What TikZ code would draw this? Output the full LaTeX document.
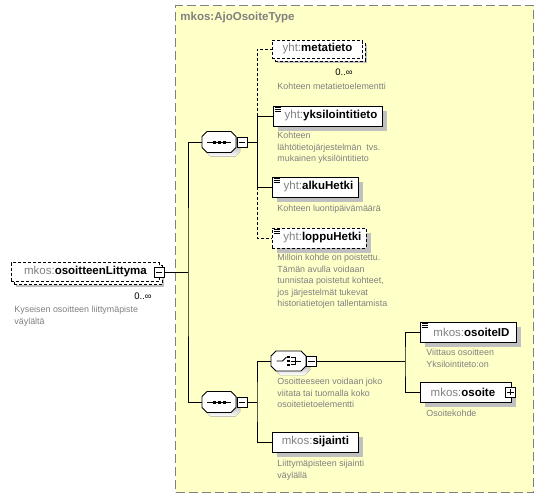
\documentclass[tikz,border=0pt]{standalone}
\usepackage{fontspec}
\setmainfont{Liberation Sans}
\usetikzlibrary{shadows}
\definecolor{typebg}{RGB}{255,255,200}
\definecolor{typeborder}{RGB}{128,128,128}
\definecolor{shade}{RGB}{192,192,192}
\definecolor{desccol}{RGB}{128,128,128}
\definecolor{prefcol}{RGB}{128,128,128}
\newcommand\pf[1]{{\color{prefcol}#1}}
\newcommand\nm[1]{{\bfseries #1}}
\begin{document}
\begin{tikzpicture}[x=1pt,y=-1pt,line width=0.9pt,
  elembase/.style={draw=black,fill=white,anchor=west,minimum height=20pt,inner sep=0pt,
    font=\fontsize{11.5}{13}\selectfont},
  elem/.style={elembase,drop shadow={shadow xshift=5pt,shadow yshift=-5pt,opacity=1,fill=shade}},
  opt/.style={dash pattern=on 3pt off 2pt},
  stackback/.style={draw=black,fill=white,anchor=west,inner sep=0pt,opt,
    drop shadow={shadow xshift=2pt,shadow yshift=-2pt,opacity=1,fill=shade}},
  pm/.style={draw=black,fill=white,minimum size=10pt,inner sep=0pt,line width=0.8pt},
  holder/.style={minimum width=34pt,minimum height=21pt,inner sep=0pt},
  desc/.style={anchor=north west,inner sep=0pt,align=left,text=desccol,
    font=\fontsize{8.9}{11.4}\selectfont},
  card/.style={inner sep=0pt,font=\fontsize{9.5}{10}\selectfont},
  conn/.style={line width=0.9pt},
  dconn/.style={line width=0.9pt,dash pattern=on 3pt off 2pt}
]
\useasboundingbox (0,0) rectangle (544,498);

% type container
\node[draw=typeborder,fill=typebg,dash pattern=on 9pt off 4pt,line width=1.2pt,
  minimum width=358pt,minimum height=487pt,anchor=north west,inner sep=0pt] (type) at (175,5) {};
\node[anchor=west,inner sep=0pt,text=typeborder,font=\fontsize{11.5}{13}\selectfont\bfseries] (title) at (180,18) {mkos:AjoOsoiteType};

% root element osoitteenLittyma (stacked, optional)
\node[stackback,minimum width=148pt,minimum height=19pt] (litb) at (14,275) {};
\node[elembase,opt,minimum width=148pt,minimum height=19pt] (lit) at (11,272) {\pf{mkos:}\nm{osoitteenLittyma}};
\node[pm] (litm) at (159,272) {};
\draw[line width=0.8pt] ([xshift=2pt]litm.west) -- ([xshift=-2pt]litm.east);
\node[card] (litc) at (143,296) {0..∞};
\node[desc] (litd) at (14,306) {Kyseisen osoitteen liittymäpiste\\väylältä};

% sequence 1
\node[holder] (s1) at (219,142) {};
\begin{scope}[shift={(s1.center)}]
  \fill[shade] (-12+4,-10.5+4) -- (12+4,-10.5+4) -- (17+4,-5.5+4) -- (17+4,5.5+4) -- (12+4,10.5+4) -- (-12+4,10.5+4) -- (-17+4,5.5+4) -- (-17+4,-5.5+4) -- cycle;
  \draw[fill=white] (-12,-10.5) -- (12,-10.5) -- (17,-5.5) -- (17,5.5) -- (12,10.5) -- (-12,10.5) -- (-17,5.5) -- (-17,-5.5) -- cycle;
  \draw (-12,0) -- (12,0);
  \fill (-6.5,-1.5) rectangle (-3.5,1.5);
  \fill (-1.5,-1.5) rectangle (1.5,1.5);
  \fill (3.5,-1.5) rectangle (6.5,1.5);
\end{scope}
\node[pm] (s1m) at (242,142) {};
\draw[line width=0.8pt] ([xshift=2pt]s1m.west) -- ([xshift=-2pt]s1m.east);

% sequence 2
\node[holder] (s2) at (219,402) {};
\begin{scope}[shift={(s2.center)}]
  \fill[shade] (-12+4,-10.5+4) -- (12+4,-10.5+4) -- (17+4,-5.5+4) -- (17+4,5.5+4) -- (12+4,10.5+4) -- (-12+4,10.5+4) -- (-17+4,5.5+4) -- (-17+4,-5.5+4) -- cycle;
  \draw[fill=white] (-12,-10.5) -- (12,-10.5) -- (17,-5.5) -- (17,5.5) -- (12,10.5) -- (-12,10.5) -- (-17,5.5) -- (-17,-5.5) -- cycle;
  \draw (-12,0) -- (12,0);
  \fill (-6.5,-1.5) rectangle (-3.5,1.5);
  \fill (-1.5,-1.5) rectangle (1.5,1.5);
  \fill (3.5,-1.5) rectangle (6.5,1.5);
\end{scope}
\node[pm] (s2m) at (242,402) {};
\draw[line width=0.8pt] ([xshift=2pt]s2m.west) -- ([xshift=-2pt]s2m.east);

% choice
\node[holder,minimum width=35pt,minimum height=20pt] (ch) at (288.5,361) {};
\begin{scope}[shift={(ch.center)}]
  \fill[shade] (-12.5+4,-10+4) -- (12.5+4,-10+4) -- (17.5+4,-5+4) -- (17.5+4,5+4) -- (12.5+4,10+4) -- (-12.5+4,10+4) -- (-17.5+4,5+4) -- (-17.5+4,-5+4) -- cycle;
  \draw[fill=white] (-12.5,-10) -- (12.5,-10) -- (17.5,-5) -- (17.5,5) -- (12.5,10) -- (-12.5,10) -- (-17.5,5) -- (-17.5,-5) -- cycle;
  \draw (-12,0) -- (-6,0) -- (-2,-4);
  \fill (-1.2,-5) rectangle (1.2,-2.6);
  \fill (-1.2,-1.2) rectangle (1.2,1.2);
  \fill (-1.2,2.6) rectangle (1.2,5);
  \draw (2,-3.8) -- (7,-3.8) -- (7,3.8) -- (2,3.8);
  \draw (2,0) -- (12,0);
\end{scope}
\node[pm] (chm) at (311.5,361) {};
\draw[line width=0.8pt] ([xshift=2pt]chm.west) -- ([xshift=-2pt]chm.east);

% children of sequence 1
\node[stackback,minimum width=90pt,minimum height=18pt] (metab) at (275,52) {};
\node[elembase,opt,minimum width=90pt,minimum height=18pt] (meta) at (272,49) {\pf{yht:}\nm{metatieto}};
\node[card] (metac) at (344,72) {0..∞};
\node[desc] (metad) at (277,83) {Kohteen metatietoelementti};

\node[elem,minimum width=109pt] (yks) at (273,116) {\hspace{6pt}\pf{yht:}\nm{yksilointitieto}};
\node[desc] (yksd) at (277,132) {Kohteen\\lähtötietojärjestelmän\ \ tvs.\\mukainen yksilöintitieto};

\node[elem,minimum width=86pt] (alku) at (272,187) {\hspace{6pt}\pf{yht:}\nm{alkuHetki}};
\node[desc] (alkud) at (277,205) {Kohteen luontipäivämäärä};

\node[elem,opt,minimum width=94pt] (loppu) at (272,238) {\hspace{6pt}\pf{yht:}\nm{loppuHetki}};
\node[desc] (loppud) at (277,254) {Milloin kohde on poistettu.\\Tämän avulla voidaan\\tunnistaa poistetut kohteet,\\jos järjestelmät tukevat\\historiatietojen tallentamista};

% children of sequence 2
\node[desc] (chd) at (277,378) {Osoitteeseen voidaan joko\\viitata tai tuomalla koko\\osoitetietoelementti};

\node[elem,minimum width=86pt] (sij) at (272,442) {\pf{mkos:}\nm{sijainti}};
\node[desc] (sijd) at (277,460) {Liittymäpisteen sijainti\\väylällä};

% children of choice
\node[elem,minimum width=96pt] (oid) at (420,332) {\hspace{6pt}\pf{mkos:}\nm{osoiteID}};
\node[desc] (oidd) at (426,349) {Viittaus osoitteen\\Yksilointiteto:on};

\node[elem,minimum width=91pt] (os) at (420,392) {\hspace{-6pt}\pf{mkos:}\nm{osoite}};
\node[pm] (osp) at (510.5,392) {};
\draw[line width=0.8pt] ([xshift=2pt]osp.west) -- ([xshift=-2pt]osp.east);
\draw[line width=0.8pt] ([yshift=2pt]osp.south) -- ([yshift=-2pt]osp.north);
\node[desc] (osd) at (426,410) {Osoitekohde};

% simple-content icons
\foreach \n in {yks,alku,loppu,oid}{
  \draw[line width=0.6pt] ([shift={(2,2)}]\n.north west) -- +(6,0);
  \draw[line width=0.6pt] ([shift={(2,4)}]\n.north west) -- +(6,0);
  \draw[line width=0.6pt] ([shift={(2,6)}]\n.north west) -- +(6,0);
}

% connectors
\coordinate (j0) at (188,272);
\coordinate (j1) at (257,142);
\coordinate (j2) at (257,402);
\coordinate (j3) at (405,361);
\draw[conn] (litm.east) -- (j0);
\draw[conn] (s1.west) -| (j0) |- (s2.west);
\draw[conn] (s1m.east) -- (j1);
\draw[dconn] (yks.west -| j1) |- (meta.west);
\draw[conn] (yks.west -| j1) -- (alku.west -| j1);
\draw[conn] (yks.west -| j1) -- (yks.west);
\draw[conn] (alku.west -| j1) -- (alku.west);
\draw[dconn] (alku.west -| j1) |- (loppu.west);
\draw[conn] (s2m.east) -- (j2);
\draw[conn] (ch.west) -| (j2) |- (sij.west);
\draw[conn] (chm.east) -- (j3);
\draw[conn] (oid.west) -| (j3) |- (os.west);
\end{tikzpicture}
\end{document}
